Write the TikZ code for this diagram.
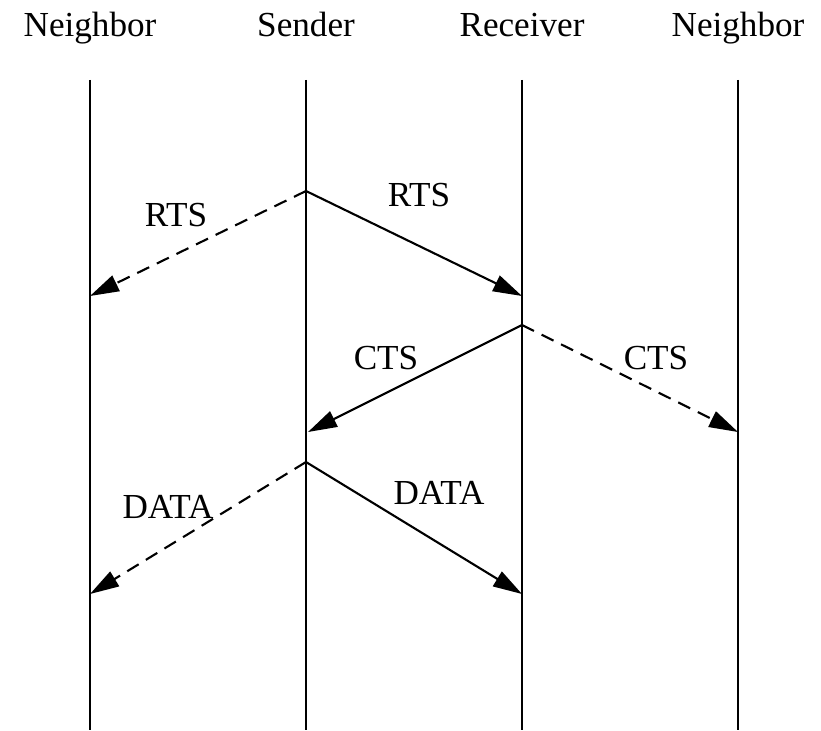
\documentclass[tikz,border=0pt]{standalone}
\usepackage{fontspec}
\setmainfont{Liberation Serif}
\usetikzlibrary{arrows.meta}

\begin{document}
\begin{tikzpicture}[font=\fontsize{10}{12}\selectfont]
    \tikzstyle{title} = [anchor=base, inner sep=0pt]
    \tikzstyle{lifeline} = [line width=0.6pt]
    \tikzstyle{msg} = [line width=0.6pt,
-{Triangle[length=0.29cm,width=0.17cm]}]
    \tikzstyle{bcast} = [msg, dash pattern=on 3.8pt off 2.4pt]
    \tikzstyle{lbl} = [inner sep=0pt]

\useasboundingbox (0,0) rectangle (8.21,7.30);

\node (nbl) [title] at (0.90,6.93) {Neighbor};
\node (snd) [title] at (3.06,6.93) {Sender};
\node (rcv) [title] at (5.22,6.93) {Receiver};
\node (nbr) [title] at (7.38,6.93) {Neighbor};

% lifelines
\coordinate (nbltop) at (0.90,6.50); \coordinate (nblbot) at (0.90,0);
\coordinate (sndtop) at (3.06,6.50); \coordinate (sndbot) at (3.06,0);
\coordinate (rcvtop) at (5.22,6.50); \coordinate (rcvbot) at (5.22,0);
\coordinate (nbrtop) at (7.38,6.50); \coordinate (nbrbot) at (7.38,0);
\draw [lifeline] (nbltop) -- (nblbot);
\draw [lifeline] (sndtop) -- (sndbot);
\draw [lifeline] (rcvtop) -- (rcvbot);
\draw [lifeline] (nbrtop) -- (nbrbot);

% message points
\coordinate (rtsout) at (3.06,5.39);
\coordinate (rtsnb) at (0.90,4.34);
\coordinate (rtsin) at (5.22,4.34);
\coordinate (ctsout) at (5.22,4.05);
\coordinate (ctsin) at (3.08,2.98);
\coordinate (ctsnb) at (7.38,2.98);
\coordinate (dataout) at (3.06,2.68);
\coordinate (datanb) at (0.90,1.36);
\coordinate (datain) at (5.22,1.36);

\draw [bcast] (rtsout) -- (rtsnb);
\draw [msg] (rtsout) -- (rtsin);
\draw [msg] (ctsout) -- (ctsin);
\draw [bcast] (ctsout) -- (ctsnb);
\draw [bcast] (dataout) -- (datanb);
\draw [msg] (dataout) -- (datain);

\node (rts1) [lbl] at (1.76,5.15) {RTS};
\node (rts2) [lbl] at (4.19,5.35) {RTS};
\node (cts1) [lbl] at (3.86,3.72) {CTS};
\node (cts2) [lbl] at (6.56,3.72) {CTS};
\node (data1) [lbl] at (1.68,2.23) {DATA};
\node (data2) [lbl] at (4.39,2.37) {DATA};

\end{tikzpicture}
\end{document}
